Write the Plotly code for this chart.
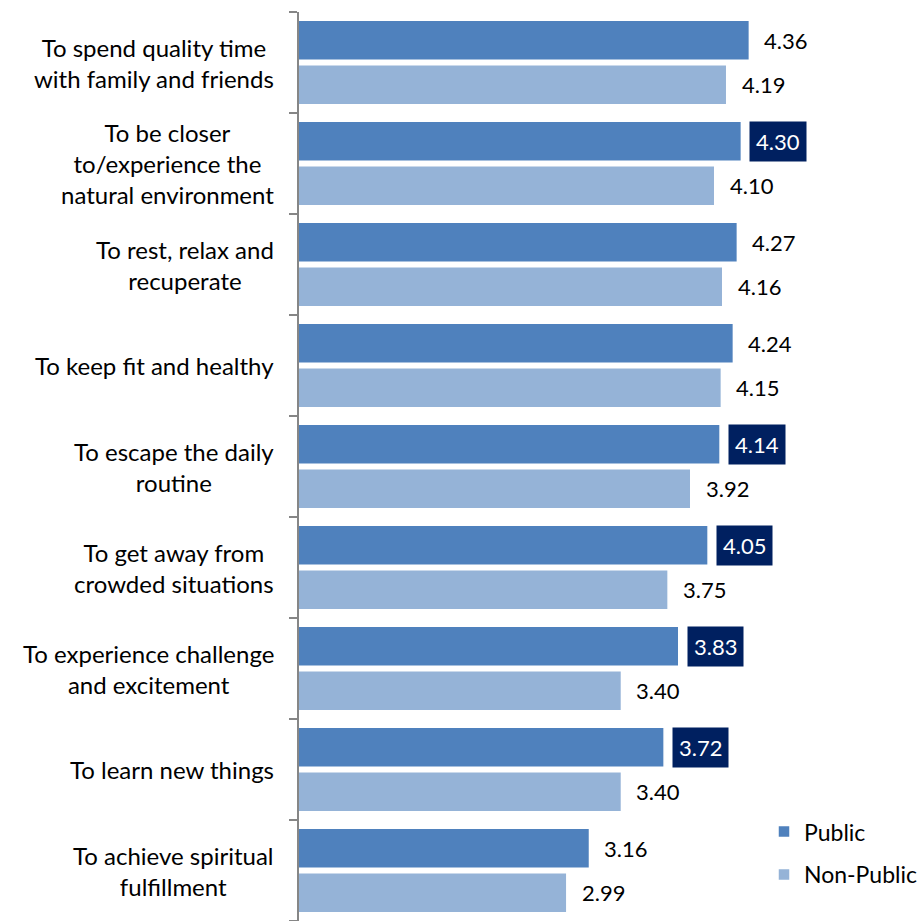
import plotly.graph_objects as go

# Reasons for visiting, top to bottom
categories = [
    "To spend quality time<br>with family and friends",
    "To be closer<br>to/experience the<br>natural environment",
    "To rest, relax and<br>recuperate",
    "To keep fit and healthy",
    "To escape the daily<br>routine",
    "To get away from<br>crowded situations",
    "To experience challenge<br>and excitement",
    "To learn new things",
    "To achieve spiritual<br>fulfillment",
]
public = [4.36, 4.30, 4.27, 4.24, 4.14, 4.05, 3.83, 3.72, 3.16]
non_public = [4.19, 4.10, 4.16, 4.15, 3.92, 3.75, 3.40, 3.40, 2.99]
# Public scores flagged as significantly higher (shown in a dark box)
public_flagged = [False, True, False, False, True, True, True, True, False]

PUBLIC_COLOR = "#4F81BD"
NON_PUBLIC_COLOR = "#95B3D7"
FLAG_COLOR = "#002060"
FONT = "Lato, 'Open Sans', sans-serif"

BARGAP = 0.12
BARGROUPGAP = 0.10
half_slot = (1 - BARGAP) / 4  # centre offset of each bar within a group

idx = list(range(len(categories)))

fig = go.Figure()
fig.add_trace(go.Bar(
    y=idx, x=public, orientation="h", name="Public",
    marker=dict(color=PUBLIC_COLOR, line=dict(color="white", width=1.5)),
    legendgroup="pub", hoverinfo="x",
))
fig.add_trace(go.Bar(
    y=idx, x=non_public, orientation="h", name="Non-Public",
    marker=dict(color=NON_PUBLIC_COLOR, line=dict(color="white", width=1.5)),
    legendgroup="nonpub", hoverinfo="x",
))

annotations = []
# Category labels, centred lines, right-aligned against the axis
for i, cat in enumerate(categories):
    annotations.append(dict(
        x=0, xref="paper", y=i, yref="y", text=cat,
        xanchor="right", yanchor="middle", align="center", xshift=-23,
        showarrow=False, font=dict(family=FONT, size=24, color="#000000"),
    ))

# Value labels at the end of each bar
for i in idx:
    for val, off, flagged in ((public[i], -half_slot, public_flagged[i]),
                              (non_public[i], half_slot, False)):
        annotations.append(dict(
            x=val, xref="x", y=i + off, yref="y", text=f"{val:.2f}",
            xanchor="left", yanchor="middle", xshift=8, borderpad=6,
            bgcolor=FLAG_COLOR if flagged else "rgba(0,0,0,0)",
            showarrow=False,
            font=dict(family=FONT, size=22,
                      color="#FFFFFF" if flagged else "#000000"),
        ))

fig.update_layout(
    width=922, height=921,
    margin=dict(l=299, r=89, t=12, b=0),
    paper_bgcolor="white", plot_bgcolor="white",
    barmode="group", bargap=BARGAP, bargroupgap=BARGROUPGAP,
    font=dict(family=FONT, color="#000000"),
    annotations=annotations,
    showlegend=True,
    legend=dict(
        x=0.872, y=0.122, xanchor="left", yanchor="top",
        font=dict(family=FONT, size=23, color="#000000"),
        traceorder="grouped", tracegroupgap=10,
        bgcolor="rgba(0,0,0,0)",
    ),
    xaxis=dict(range=[0.98, 4.98], visible=False, fixedrange=True),
    yaxis=dict(
        range=[len(categories) - 0.5, -0.5],
        tickmode="array", tickvals=[i - 0.5 for i in range(len(categories) + 1)],
        showticklabels=False, ticks="outside", ticklen=8, tickwidth=1.5,
        tickcolor="#868686", showline=True, linecolor="#868686", linewidth=1.5,
        showgrid=False, zeroline=False, fixedrange=True,
    ),
)

fig.write_html("out.html")
